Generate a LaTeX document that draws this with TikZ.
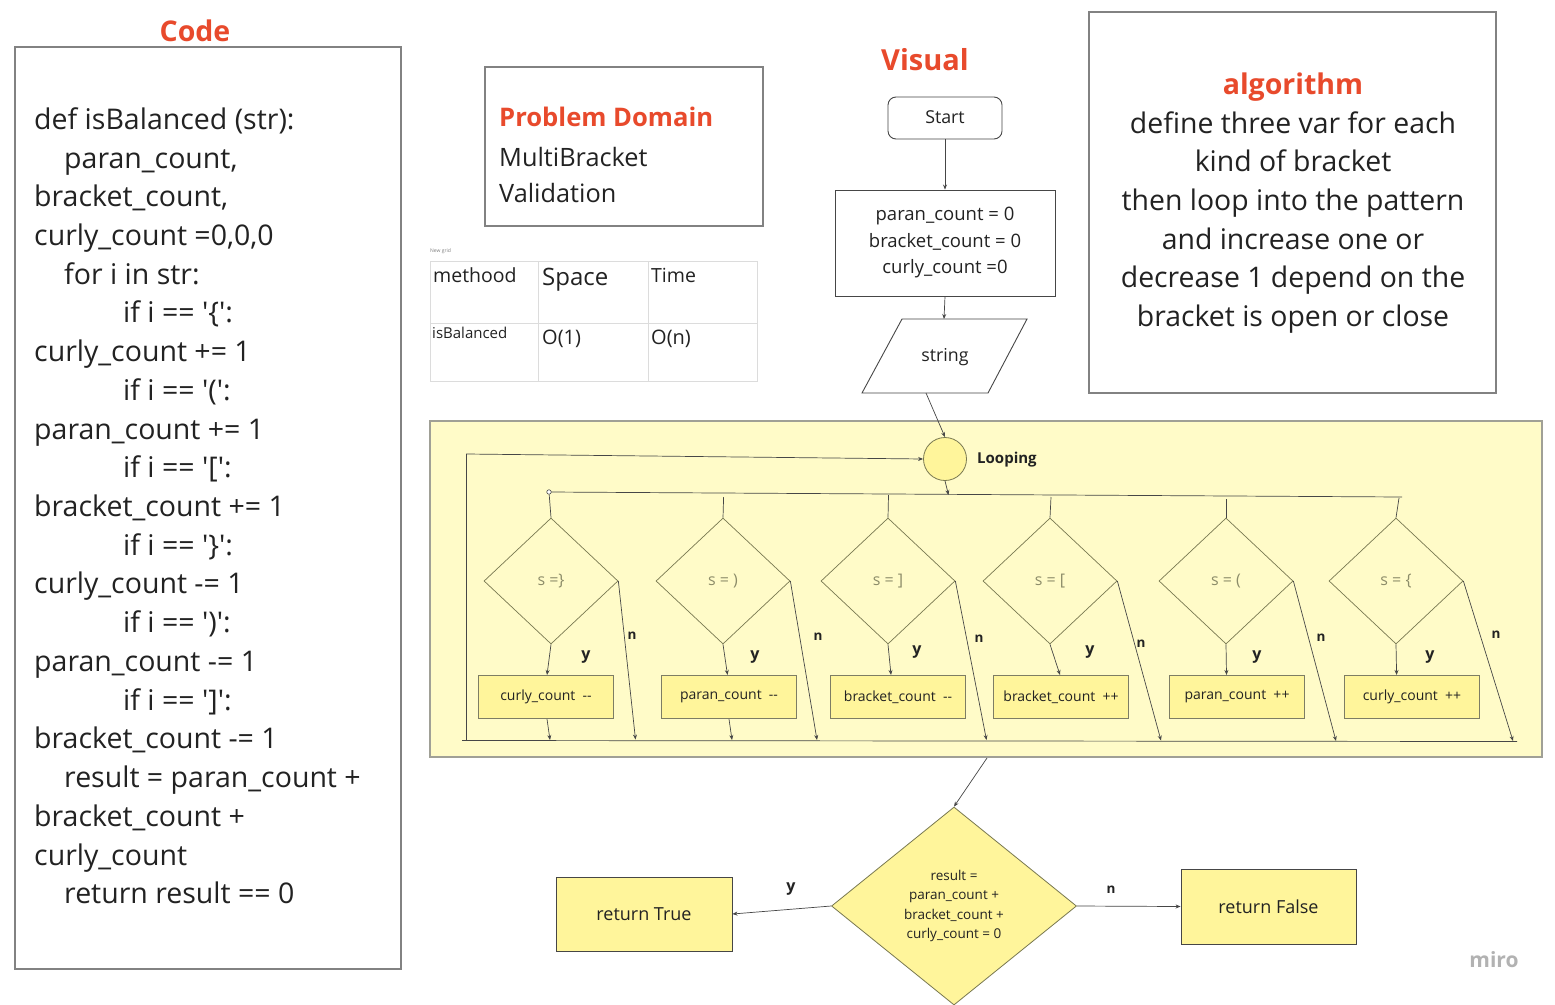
\documentclass[tikz,border=0pt]{standalone}
\usepackage{fontspec}
\setmainfont{Open Sans}
\usetikzlibrary{shapes.geometric,arrows.meta}
\definecolor{ttl}{RGB}{232,74,44}
\definecolor{ink}{RGB}{34,34,34}
\definecolor{lnc}{RGB}{70,70,70}
\definecolor{frmf}{RGB}{255,251,200}
\definecolor{frmb}{RGB}{160,160,150}
\definecolor{boxf}{RGB}{255,245,155}
\definecolor{boxb}{RGB}{125,125,100}
\definecolor{diab}{RGB}{120,120,80}
\definecolor{diat}{RGB}{140,140,105}
\definecolor{grd}{RGB}{220,220,220}
\definecolor{brd}{RGB}{130,130,130}
\newcommand\fsz[2]{\fontsize{#1}{#2}\selectfont}
\tikzset{
  txt/.style={inner sep=0pt, text height=.72em, text depth=.22em, text=ink},
  codeln/.style={txt, anchor=west, yshift=-8pt, font=\fsz{28.5}{34}},
  algln/.style={txt, yshift=-8pt, font=\fsz{28.4}{33}},
  ttlst/.style={txt, yshift=-8pt, text=ttl, font=\bfseries\fsz{28.5}{34}},
  ln/.style={draw=lnc, line width=0.7pt},
  arr/.style={ln, -{Stealth[length=5pt,width=4pt]}},
  ybox/.style={draw=boxb, fill=boxf, line width=1.1pt, minimum width=135pt, minimum height=43pt, inner sep=0pt, text=ink, font=\fsz{14}{17}},
  dia/.style={diamond, draw=diab, line width=0.7pt, minimum width=134pt, minimum height=126pt, inner sep=0pt, text=diat, font=\fsz{16}{19}},
  blab/.style={txt, yshift=-3pt, font=\bfseries\fsz{16}{19}},
  nlab/.style={txt, yshift=-3pt, font=\bfseries\fsz{13.5}{16}},
}
\begin{document}
\begin{tikzpicture}[x=1pt,y=-1pt]
\fill[white] (0,0) rectangle (1555,1004);
\useasboundingbox (0,0) rectangle (1555,1004);

% ---------------- Code ----------------
\node[ttlst] (codet) at (195,31) {Code};
\node[draw=brd, line width=1.2pt, minimum width=386pt, minimum height=922pt, inner sep=0pt] (codebox) at (208,508) {};
\node[codeln] (c1) at (34,119) {def isBalanced (str):};
\node[codeln] (c2) at (64,158) {paran\_count,};
\node[codeln] (c3) at (34,196) {bracket\_count,};
\node[codeln] (c4) at (34,235) {curly\_count =0,0,0};
\node[codeln] (c5) at (64,274) {for i in str:};
\node[codeln] (c6) at (123,312) {if i == \textquotesingle\{\textquotesingle:};
\node[codeln] (c7) at (34,351) {curly\_count += 1};
\node[codeln] (c8) at (123,390) {if i == \textquotesingle(\textquotesingle:};
\node[codeln] (c9) at (34,429) {paran\_count += 1};
\node[codeln] (c10) at (123,467) {if i == \textquotesingle[\textquotesingle:};
\node[codeln] (c11) at (34,506) {bracket\_count += 1};
\node[codeln] (c12) at (123,545) {if i == \textquotesingle\}\textquotesingle:};
\node[codeln] (c13) at (34,583) {curly\_count -= 1};
\node[codeln] (c14) at (123,622) {if i == \textquotesingle)\textquotesingle:};
\node[codeln] (c15) at (34,661) {paran\_count -= 1};
\node[codeln] (c16) at (123,700) {if i == \textquotesingle]\textquotesingle:};
\node[codeln] (c17) at (34,738) {bracket\_count -= 1};
\node[codeln] (c18) at (64,777) {result = paran\_count +};
\node[codeln] (c19) at (34,816) {bracket\_count +};
\node[codeln] (c20) at (34,855) {curly\_count};
\node[codeln] (c21) at (64,893) {return result == 0};

% ---------------- Problem domain ----------------
\node[draw=brd, line width=1.2pt, minimum width=278pt, minimum height=159pt, inner sep=0pt] (pbox) at (624,146.5) {};
\node[txt, anchor=west, yshift=-7.5pt, text=ttl, font=\bfseries\fsz{25.6}{30}] (pt) at (499,116) {Problem Domain};
\node[txt, anchor=west, yshift=-7pt, font=\fsz{25.3}{30}] (p1) at (499,157) {MultiBracket};
\node[txt, anchor=west, yshift=-7pt, font=\fsz{25.3}{30}] (p2) at (499,193) {Validation};

% ---------------- Table ----------------
\node[txt, anchor=west, text=gray, font=\fsz{5}{6}] (ng) at (430,250) {New grid};
\draw[grd, line width=1pt] (430,261) rectangle (757,381);
\draw[grd, line width=0.8pt] (538,261) -- (538,381) (648,261) -- (648,381) (430,323) -- (757,323);
\node[txt, anchor=west, yshift=-5pt, font=\fsz{19.5}{23}] (tm) at (433,275) {methood};
\node[txt, anchor=west, yshift=-5pt, font=\fsz{24}{28}] (ts) at (542,278) {Space};
\node[txt, anchor=west, yshift=-5pt, font=\fsz{19.5}{23}] (tt) at (651,275) {Time};
\node[txt, anchor=west, yshift=-3pt, font=\fsz{15}{18}] (tb) at (432,333) {isBalanced};
\node[txt, anchor=west, yshift=-5pt, font=\fsz{20}{24}] (to1) at (542,337) {O(1)};
\node[txt, anchor=west, yshift=-5pt, font=\fsz{20}{24}] (ton) at (651,337) {O(n)};

% ---------------- Visual ----------------
\node[ttlst, font=\bfseries\fsz{29}{34}] (vt) at (925,60) {Visual};
\node[draw=lnc, line width=0.9pt, rounded corners=8pt, minimum width=114pt, minimum height=42pt, inner sep=0pt, text=ink, font=\fsz{17.8}{21}] (start) at (945,118) {\raisebox{1.5pt}{Start}};
\node[draw=lnc, line width=0.9pt, minimum width=220pt, minimum height=106pt, inner sep=0pt, text=ink, align=center, font=\fsz{18.5}{26.5}] (init) at (945,243) {paran\_count = 0\\bracket\_count = 0\\curly\_count =0};
\draw[lnc, line width=0.9pt] (902,319) -- (1027,319) -- (988,393) -- (862,393) -- cycle;
\node[txt, yshift=-4pt, font=\fsz{17.8}{21}] (str) at (945,355) {string};
\coordinate (strtop) at (944,319);
\coordinate (strbot) at (926,393);
\draw[arr] (start.south) -- (init.north);
\draw[arr] (init.south) -- (strtop);

% ---------------- Algorithm ----------------
\node[draw=brd, line width=1.2pt, minimum width=407pt, minimum height=381pt, inner sep=0pt] (abox) at (1292.5,202.5) {};
\node[ttlst] (at) at (1293,84) {algorithm};
\node[algln] (a1) at (1293,123) {define three var for each};
\node[algln] (a2) at (1293,161) {kind of bracket};
\node[algln] (a3) at (1293,200) {then loop into the pattern};
\node[algln] (a4) at (1293,239) {and increase one or};
\node[algln] (a5) at (1293,277) {decrease 1 depend on the};
\node[algln] (a6) at (1293,316) {bracket is open or close};

% ---------------- Loop frame ----------------
\node[draw=frmb, fill=frmf, line width=1.4pt, minimum width=1112pt, minimum height=336pt, inner sep=0pt] (frame) at (986,589) {};
\node[circle, draw=diab, fill=boxf, line width=0.8pt, minimum size=43pt, inner sep=0pt] (loop) at (945,459) {};
\node[txt, anchor=west, yshift=-3pt, font=\bfseries\fsz{15}{18}] (loopl) at (977,458) {Looping};
\draw[arr] (strbot) -- (loop.north);

% distribution line
\coordinate (dist0) at (549,492);
\coordinate (distE) at (1402,497);
\draw[ln] (dist0) -- (distE);
\node[circle, draw=lnc, fill=white, line width=0.6pt, inner sep=0pt, minimum size=4.5pt] (dot) at (dist0) {};
\coordinate (lpin) at (948.5,495);
\draw[arr] (loop.south) -- (lpin);

% bottom line and loop back
\coordinate (bl) at (462,740.5);
\coordinate (br) at (1517,741.5);
\draw[ln] (bl) -- (br);
\coordinate (lpA) at (466.5,740.5);
\coordinate (lpB) at (466.5,454);
\draw[arr] (lpA) -- (lpB) -- (loop.west);

% diamonds
\node[dia] (d1) at (551,581) {s =\}};
\node[dia] (d2) at (723,581) {s = )};
\node[dia] (d3) at (888,581) {s = ]};
\node[dia] (d4) at (1050,581) {s = [};
\node[dia] (d5) at (1226,581) {s = (};
\node[dia] (d6) at (1396,581) {s = \{};

% feeder lines
\coordinate (f2) at (723.6,497);
\coordinate (f3) at (888.5,495);
\coordinate (f4) at (1051,497);
\coordinate (f5) at (1226,499);
\coordinate (f6) at (1399,498);
\draw[ln] (dot) -- (d1.north);
\draw[ln] (f2) -- (d2.north);
\draw[ln] (f3) -- (d3.north);
\draw[ln] (f4) -- (d4.north);
\draw[ln] (f5) -- (d5.north);
\draw[ln] (f6) -- (d6.north);

% boxes
\node[ybox] (b1) at (546,697) {curly\_count\ \ -{}-};
\node[ybox] (b2) at (729,697) {paran\_count\ \ -{}-};
\node[ybox] (b3) at (898,697) {bracket\_count\ \ -{}-};
\node[ybox] (b4) at (1061,697) {bracket\_count\ \ ++};
\node[ybox] (b5) at (1237,697) {paran\_count\ \ ++};
\node[ybox] (b6) at (1412,697) {curly\_count\ \ ++};

% yes arrows
\draw[arr] (d1.south) -- ([xshift=1pt]b1.north);
\draw[arr] (d2.south) -- ([xshift=-1.5pt]b2.north);
\draw[arr] (d3.south) -- ([xshift=-7pt]b3.north);
\draw[arr] (d4.south) -- ([xshift=-1pt]b4.north);
\draw[arr] (d5.south) -- ([xshift=-10.5pt]b5.north);
\draw[arr] (d6.south) -- ([xshift=-15.4pt]b6.north);

% box down arrows
\coordinate (e1) at (550,740);
\coordinate (e2) at (732,740);
\draw[arr] ([xshift=1pt]b1.south) -- (e1);
\draw[arr] (b2.south) -- (e2);

% no arrows
\coordinate (n1) at (635.5,739.5);
\coordinate (n2) at (817,740);
\coordinate (n3) at (986.5,740);
\coordinate (n4) at (1161,740.5);
\coordinate (n5) at (1336,741);
\coordinate (n6) at (1513,741);
\draw[arr] (d1.east) -- (n1);
\draw[arr] (d2.east) -- (n2);
\draw[arr] (d3.east) -- (n3);
\draw[arr] (d4.east) -- (n4);
\draw[arr] (d5.east) -- (n5);
\draw[arr] (d6.east) -- (n6);

% labels
\node[nlab] (nl1) at (632,634) {n};
\node[nlab] (nl2) at (818,635) {n};
\node[nlab] (nl3) at (979,637) {n};
\node[nlab] (nl4) at (1141,642) {n};
\node[nlab] (nl5) at (1321,636) {n};
\node[nlab] (nl6) at (1496,633) {n};
\node[blab] (yl1) at (586,654) {y};
\node[blab] (yl2) at (755,654) {y};
\node[blab] (yl3) at (917,649) {y};
\node[blab] (yl4) at (1090,649) {y};
\node[blab] (yl5) at (1257,654) {y};
\node[blab] (yl6) at (1430,654) {y};

% ---------------- Result decision ----------------
\coordinate (fout) at (987,758);
\node[diamond, draw=diab, fill=boxf, line width=0.8pt, minimum width=245pt, minimum height=198pt, inner sep=0pt, align=center, text=ink, font=\fsz{13.5}{19.5}] (dec) at (954,906) {result =\\paran\_count +\\bracket\_count +\\curly\_count = 0};
\draw[arr] (fout) -- (dec.north);
\node[draw=lnc, fill=boxf, line width=0.9pt, minimum width=176pt, minimum height=74pt, inner sep=0pt, text=ink, font=\fsz{18}{21}] (rt) at (644,914) {return True};
\node[draw=lnc, fill=boxf, line width=0.9pt, minimum width=175pt, minimum height=75pt, inner sep=0pt, text=ink, font=\fsz{18}{21}] (rf) at (1268.5,906.5) {return False};
\draw[arr] (dec.west) -- (rt.east);
\draw[arr] (dec.east) -- (rf.west);
\node[blab] (ydec) at (791,886) {y};
\node[nlab] (ndec) at (1111,888) {n};

\node[txt, yshift=-5pt, text=black!30, font=\bfseries\fsz{21}{24}] (miro) at (1494,960) {miro};
\end{tikzpicture}
\end{document}
